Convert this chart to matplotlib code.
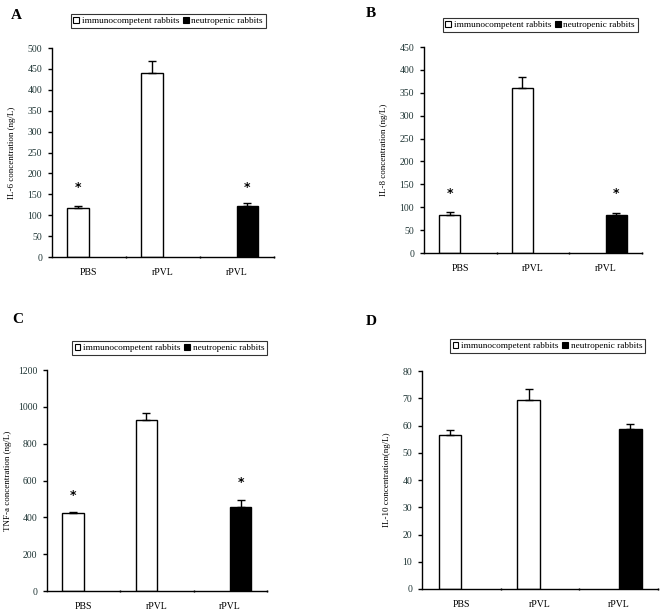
import matplotlib
matplotlib.use("Agg")
import matplotlib.pyplot as plt
import numpy as np
from matplotlib.patches import Patch

plt.rcParams['font.family'] = ['Liberation Serif', 'DejaVu Serif']

categories = ['PBS', 'rPVL', 'rPVL']
series_names = ['immunocompetent rabbits', 'neutropenic rabbits']

# values (ng/L)
il6_immuno = [117, 440, 0]
il6_immuno_err = [4, 30, 0]
il6_neutro = [0, 0, 121]
il6_neutro_err = [0, 0, 9]
il6_stars = [(0, 167), (2, 167)]

il8_immuno = [84, 360, 0]
il8_immuno_err = [5, 24, 0]
il8_neutro = [0, 0, 84]
il8_neutro_err = [0, 0, 3]
il8_stars = [(0, 130), (2, 130)]

tnf_immuno = [423, 927, 0]
tnf_immuno_err = [8, 38, 0]
tnf_neutro = [0, 0, 458]
tnf_neutro_err = [0, 0, 34]
tnf_stars = [(0, 521), (2, 588)]

il10_immuno = [56.5, 69.3, 0]
il10_immuno_err = [2, 4.2, 0]
il10_neutro = [0, 0, 58.9]
il10_neutro_err = [0, 0, 1.5]
il10_stars = []

panels = [
    # letter, ylabel, ymax, ystep, data, axes rect, legend rect, letter pos, labelpad
    ('A', 'IL-6 concentration (ng/L)', 500, 50,
     (il6_immuno, il6_immuno_err, il6_neutro, il6_neutro_err, il6_stars),
     [0.0785, 0.580, 0.335, 0.3415], (0.104, 0.953, 0.300, 0.026), (0.016, 0.975), 8),
    ('B', 'IL-8 concentration (ng/L)', 450, 50,
     (il8_immuno, il8_immuno_err, il8_neutro, il8_neutro_err, il8_stars),
     [0.6405, 0.5866, 0.329, 0.3366], (0.668, 0.946, 0.296, 0.026), (0.553, 0.978), 8),
    ('C', 'TNF-a concentration (ng/L)', 1200, 200,
     (tnf_immuno, tnf_immuno_err, tnf_neutro, tnf_neutro_err, tnf_stars),
     [0.071, 0.0343, 0.332, 0.361], (0.107, 0.418, 0.298, 0.027), (0.018, 0.478), 4),
    ('D', 'IL-10 concentration(ng/L)', 80, 10,
     (il10_immuno, il10_immuno_err, il10_neutro, il10_neutro_err, il10_stars),
     [0.6375, 0.0376, 0.3565, 0.356], (0.678, 0.421, 0.298, 0.027), (0.553, 0.475), 8),
]

fig = plt.figure(figsize=(6.62, 6.12), dpi=100)
x = np.arange(len(categories))
w = 0.29
tick_col = '#1f3535'


def draw_series(ax, xs, vals, errs, color):
    for xi, v, e in zip(xs, vals, errs):
        if v <= 0:
            continue  # empty cluster slot, nothing drawn
        ax.bar(xi, v, w, color=color, edgecolor='black', linewidth=1.0, zorder=2)
        ax.errorbar(xi, v, yerr=[[0], [e]], fmt='none', ecolor='black',
                    elinewidth=1.0, capsize=3, capthick=1.0, zorder=3)


for letter, ylab, ymax, ystep, data, rect, leg_rect, lpos, lpad in panels:
    imm, imm_err, neu, neu_err, stars = data
    ax = fig.add_axes(rect)
    draw_series(ax, x - w / 2, imm, imm_err, 'white')
    draw_series(ax, x + w / 2, neu, neu_err, 'black')
    for ci, sy in stars:
        xs = ci - w / 2 if imm[ci] > 0 else ci + w / 2
        ax.text(xs, sy, '*', ha='center', va='center', fontsize=9,
                fontweight='bold', family='DejaVu Sans')

    ax.set_xlim(-0.5, 2.5)
    ax.set_ylim(0, ymax)
    ax.set_yticks(np.arange(0, ymax + ystep / 2, ystep))
    ax.set_xticks(x)
    ax.set_xticklabels(categories, fontsize=7)
    ax.set_xticks([0.5, 1.5, 2.5], minor=True)
    ax.tick_params(axis='x', which='major', length=0, pad=8)
    ax.tick_params(axis='x', which='minor', length=2, direction='inout', width=1)
    ax.tick_params(axis='y', labelsize=7, length=3, width=1, labelcolor=tick_col, pad=4)
    for s in ['top', 'right']:
        ax.spines[s].set_visible(False)
    for s in ['left', 'bottom']:
        ax.spines[s].set_linewidth(1.0)
    ax.set_ylabel(ylab, fontsize=6.5, labelpad=lpad)

    handles = [Patch(facecolor='white', edgecolor='black', linewidth=0.8),
               Patch(facecolor='black', edgecolor='black', linewidth=0.8)]
    leg = fig.legend(handles, series_names, loc='center', bbox_to_anchor=leg_rect,
                     ncol=2, fontsize=6.7, frameon=True, fancybox=False,
                     handlelength=0.6, handleheight=0.6, handletextpad=0.3,
                     columnspacing=0.4, borderpad=0.3, borderaxespad=0)
    leg.get_frame().set_edgecolor('black')
    leg.get_frame().set_linewidth(0.8)

    fig.text(lpos[0], lpos[1], letter, fontsize=11, fontweight='bold',
             ha='left', va='center')

fig.savefig('out.png', dpi=100)
